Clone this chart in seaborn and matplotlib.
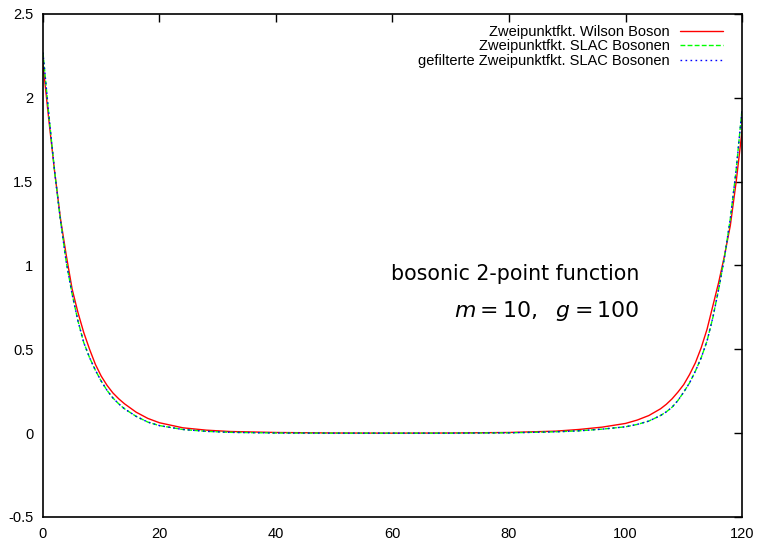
import matplotlib
matplotlib.use("Agg")
import matplotlib.pyplot as plt
import seaborn as sns
import pandas as pd
from matplotlib.ticker import FixedLocator, FuncFormatter

# Lattice sites at which the correlators were sampled
sites = [0, 1, 2, 3, 4, 5, 6, 7, 8, 9, 10, 11, 12, 13, 14, 16, 18, 20, 24, 28,
         32, 40, 50, 60, 70, 80, 88, 92, 96, 100, 102, 104, 106, 107, 108,
         109, 110, 111, 112, 113, 114, 115, 116, 117, 118, 119, 120]

wilson = [2.20, 1.87, 1.56, 1.28, 1.06, 0.86, 0.72, 0.60, 0.50, 0.41, 0.34,
          0.285, 0.24, 0.205, 0.175, 0.125, 0.088, 0.062, 0.032, 0.018,
          0.010, 0.004, 0.001, 0.0, 0.001, 0.004, 0.012, 0.022, 0.036, 0.058,
          0.078, 0.105, 0.145, 0.172, 0.205, 0.245, 0.29, 0.35, 0.42, 0.51,
          0.62, 0.76, 0.90, 1.06, 1.24, 1.50, 1.80]

slac = [2.27, 1.90, 1.56, 1.27, 1.02, 0.83, 0.67, 0.54, 0.45, 0.375, 0.31,
        0.255, 0.21, 0.175, 0.145, 0.10, 0.066, 0.045, 0.022, 0.011,
        0.005, 0.001, 0.0, 0.0, 0.0, 0.002, 0.008, 0.014, 0.024, 0.038,
        0.052, 0.072, 0.105, 0.127, 0.155, 0.195, 0.245, 0.30, 0.37, 0.45,
        0.55, 0.69, 0.86, 1.05, 1.28, 1.57, 1.93]

slac_filtered = [2.27, 1.90, 1.56, 1.27, 1.02, 0.83, 0.67, 0.54, 0.45, 0.375,
                 0.31, 0.255, 0.21, 0.175, 0.145, 0.10, 0.066, 0.045, 0.022,
                 0.011, 0.005, 0.001, 0.0, 0.0, 0.0, 0.002, 0.008, 0.014,
                 0.024, 0.038, 0.052, 0.072, 0.105, 0.127, 0.155, 0.195,
                 0.245, 0.30, 0.37, 0.45, 0.55, 0.69, 0.86, 1.05, 1.28, 1.57,
                 1.93]

labels = ["Zweipunktfkt. Wilson Boson",
          "Zweipunktfkt. SLAC Bosonen",
          "gefilterte Zweipunktfkt. SLAC Bosonen"]

x_ticks = [0, 20, 40, 60, 80, 100, 120]
y_ticks = [-0.5, 0, 0.5, 1, 1.5, 2, 2.5]

sns.set_style("white")
plt.rcParams["font.family"] = ["Liberation Sans", "DejaVu Sans"]
plt.rcParams["mathtext.fontset"] = "dejavusans"
plt.rcParams["text.color"] = "black"

fig = plt.figure(figsize=(7.58, 5.40), dpi=100)
ax = fig.add_axes([0.0567, 0.0426, 0.9222, 0.9315])

df = pd.DataFrame({"site": sites * 3,
                   "value": wilson + slac + slac_filtered,
                   "series": [labels[0]] * len(sites) + [labels[1]] * len(sites)
                   + [labels[2]] * len(sites)})

sns.lineplot(data=df, x="site", y="value", hue="series", style="series",
             palette=["#ff0000", "#00ff00", "#0000ff"],
             dashes=["", (3.5, 1.6), (1.2, 2.4)], linewidth=1.0,
             ax=ax, sort=False)

ax.set_xlim(0, 120)
ax.set_ylim(-0.5, 2.5)
ax.xaxis.set_major_locator(FixedLocator(x_ticks))
ax.yaxis.set_major_locator(FixedLocator(y_ticks))
ax.yaxis.set_major_formatter(FuncFormatter(lambda v, p: "%g" % v))
ax.xaxis.set_major_formatter(FuncFormatter(lambda v, p: "%g" % v))
ax.tick_params(direction="in", top=True, right=True, length=6, width=1,
               labelsize=10.5, colors="black")
ax.tick_params(axis="y", pad=7)
ax.tick_params(axis="x", pad=7)
ax.set_xlabel("")
ax.set_ylabel("")
for sp in ax.spines.values():
    sp.set_visible(True)
    sp.set_color("black")
    sp.set_linewidth(1.2)

leg = ax.legend(loc="upper right", frameon=False, markerfirst=False,
                fontsize=10.5, handlelength=2.95, handletextpad=0.7,
                labelspacing=0.03, borderpad=0, borderaxespad=0,
                bbox_to_anchor=(0.973, 0.978), labelcolor="black")
for col in leg._legend_handle_box.get_children():
    col.align = "right"

ax.text(0.853, 0.471, "bosonic 2-point function", transform=ax.transAxes,
        ha="right", va="baseline", fontsize=14.8, color="black",
        family=["DejaVu Sans"])
ax.text(0.853, 0.398, r"$m = 10,\ \ g = 100$", transform=ax.transAxes,
        ha="right", va="baseline", fontsize=15.8, color="black")

fig.savefig("out.png", dpi=100)
